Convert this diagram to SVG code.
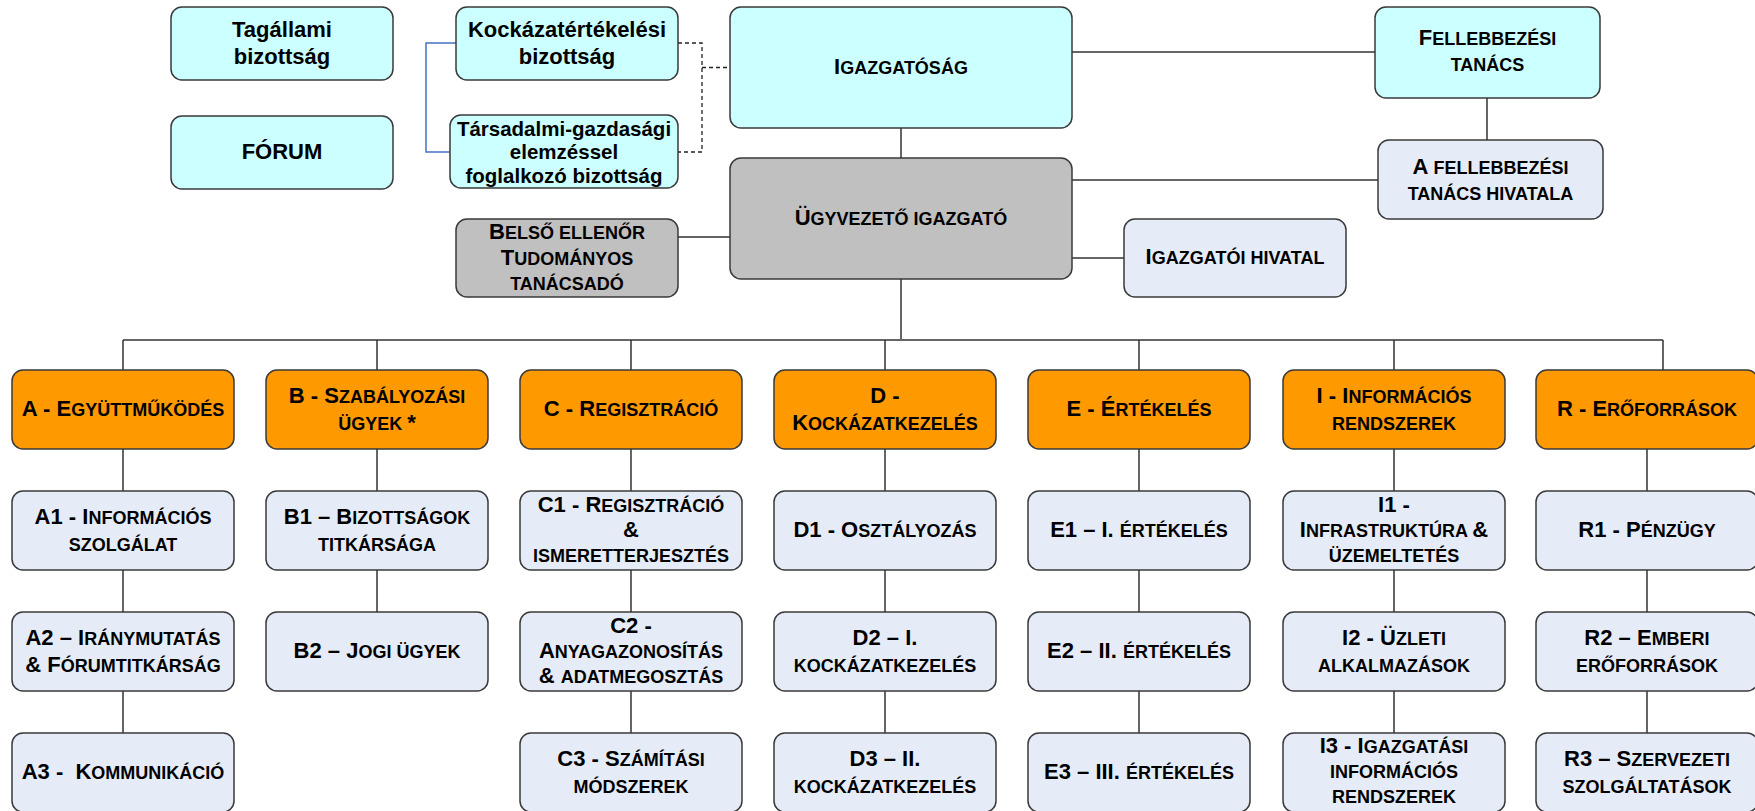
<svg xmlns="http://www.w3.org/2000/svg" width="1755" height="811" viewBox="0 0 1755 811">
<style>
rect{stroke:#3a3a3a;stroke-width:1.5}
.cy{fill:#CCFFFF}.or{fill:#FF9900}.lb{fill:#E6ECF7}.gr{fill:#C0C0C0}
text{font-family:"Liberation Sans",Arial,sans-serif;font-weight:bold;font-size:22px;text-anchor:middle;fill:#000}
.s{font-size:18px}
.m{font-size:20.5px}
.ln{fill:none;stroke:#333;stroke-width:1.5}
.bus{fill:none;stroke:#666;stroke-width:2}
.blue{fill:none;stroke:#4472C4;stroke-width:1.5}
.dash{fill:none;stroke:#222;stroke-width:1.3;stroke-dasharray:4 3}
</style>
<g id="connectors">
<path class="ln" d="M1072 52H1375M1487 98V140M901 128V158M1072 180H1378M1072 258H1124M678 237H730M901 279V340"/>
<path class="bus" d="M123 340H1663"/>
<path class="ln" d="M123 340V370M377 340V370M631 340V370M885 340V370M1139 340V370M1394 340V370M1663 340V370"/>
<path class="ln" d="M123 449V491M123 570V612M123 691V733M377 449V491M377 570V612M631 449V491M631 570V612M631 691V733M885 449V491M885 570V612M885 691V733M1139 449V491M1139 570V612M1139 691V733M1394 449V491M1394 570V612M1394 691V733M1647 449V491M1647 570V612M1647 691V733"/>
<path class="blue" d="M456 43H426V152H450"/>
<path class="dash" d="M678 43H702V152H678M702 67.5H730"/>
</g>
<g id="tagallami"><rect class="cy" x="171" y="7" width="222" height="73" rx="11"/><text x="282" y="36.5">Tagállami</text><text x="282" y="63.5">bizottság</text></g>
<g id="forum"><rect class="cy" x="171" y="116" width="222" height="73" rx="11"/><text x="282" y="158.5">FÓRUM</text></g>
<g id="kockazatertekelesi"><rect class="cy" x="456" y="7" width="222" height="73" rx="11"/><text x="567" y="36.5">Kockázatértékelési</text><text x="567" y="63.5">bizottság</text></g>
<g id="tarsadalmi"><rect class="cy" x="450" y="115" width="228" height="73" rx="11"/><text class="m" x="564" y="135.5">Társadalmi-gazdasági</text><text class="m" x="564" y="159">elemzéssel</text><text class="m" x="564" y="182.5">foglalkozó bizottság</text></g>
<g id="igazgatosag"><rect class="cy" x="730" y="7" width="342" height="121" rx="11"/><text x="901" y="73.5">I<tspan class="s">GAZGATÓSÁG</tspan></text></g>
<g id="fellebbezesi-tanacs"><rect class="cy" x="1375" y="7" width="225" height="91" rx="11"/><text x="1487.5" y="45">F<tspan class="s">ELLEBBEZÉSI</tspan></text><text class="s" x="1487.5" y="71">TANÁCS</text></g>
<g id="fellebbezesi-hivatal"><rect class="lb" x="1378" y="140" width="225" height="79" rx="11"/><text x="1490.5" y="173.5">A <tspan class="s">FELLEBBEZÉSI</tspan></text><text class="s" x="1490.5" y="199.5">TANÁCS HIVATALA</text></g>
<g id="ugyvezeto"><rect class="gr" x="730" y="158" width="342" height="121" rx="11"/><text x="901" y="225">Ü<tspan class="s">GYVEZETŐ IGAZGATÓ</tspan></text></g>
<g id="belso"><rect class="gr" x="456" y="219" width="222" height="78" rx="11"/><text x="567" y="239">B<tspan class="s">ELSŐ ELLENŐR</tspan></text><text x="567" y="264.5">T<tspan class="s">UDOMÁNYOS</tspan></text><text class="s" x="567" y="289.5">TANÁCSADÓ</text></g>
<g id="igazgatoi-hivatal"><rect class="lb" x="1124" y="219" width="222" height="78" rx="11"/><text x="1235" y="264">I<tspan class="s">GAZGATÓI HIVATAL</tspan></text></g>

<g id="A"><rect class="or" x="12" y="370" width="222" height="79" rx="11"/><text x="123" y="415.5">A - E<tspan class="s">GYÜTTMŰKÖDÉS</tspan></text></g>
<g id="B"><rect class="or" x="266" y="370" width="222" height="79" rx="11"/><text x="377" y="402.5">B - S<tspan class="s">ZABÁLYOZÁSI</tspan></text><text x="377" y="429.5"><tspan class="s">ÜGYEK </tspan>*</text></g>
<g id="C"><rect class="or" x="520" y="370" width="222" height="79" rx="11"/><text x="631" y="415.5">C - R<tspan class="s">EGISZTRÁCIÓ</tspan></text></g>
<g id="D"><rect class="or" x="774" y="370" width="222" height="79" rx="11"/><text x="885" y="402.5">D -</text><text x="885" y="429.5">K<tspan class="s">OCKÁZATKEZELÉS</tspan></text></g>
<g id="E"><rect class="or" x="1028" y="370" width="222" height="79" rx="11"/><text x="1139" y="415.5">E - É<tspan class="s">RTÉKELÉS</tspan></text></g>
<g id="I"><rect class="or" x="1283" y="370" width="222" height="79" rx="11"/><text x="1394" y="402.5">I - I<tspan class="s">NFORMÁCIÓS</tspan></text><text class="s" x="1394" y="429.5">RENDSZEREK</text></g>
<g id="R"><rect class="or" x="1536" y="370" width="222" height="79" rx="11"/><text x="1647" y="415.5">R - E<tspan class="s">RŐFORRÁSOK</tspan></text></g>

<g id="A1"><rect class="lb" x="12" y="491" width="222" height="79" rx="11"/><text x="123" y="523.5">A1 - I<tspan class="s">NFORMÁCIÓS</tspan></text><text class="s" x="123" y="550.5">SZOLGÁLAT</text></g>
<g id="A2"><rect class="lb" x="12" y="612" width="222" height="79" rx="11"/><text x="123" y="644.5">A2 – I<tspan class="s">RÁNYMUTATÁS</tspan></text><text x="123" y="671.5">&amp; F<tspan class="s">ÓRUMTITKÁRSÁG</tspan></text></g>
<g id="A3"><rect class="lb" x="12" y="733" width="222" height="79" rx="11"/><text x="123" y="778.5" xml:space="preserve">A3 -  K<tspan class="s">OMMUNIKÁCIÓ</tspan></text></g>

<g id="B1"><rect class="lb" x="266" y="491" width="222" height="79" rx="11"/><text x="377" y="523.5">B1 – B<tspan class="s">IZOTTSÁGOK</tspan></text><text class="s" x="377" y="550.5">TITKÁRSÁGA</text></g>
<g id="B2"><rect class="lb" x="266" y="612" width="222" height="79" rx="11"/><text x="377" y="657.5">B2 – J<tspan class="s">OGI ÜGYEK</tspan></text></g>

<g id="C1"><rect class="lb" x="520" y="491" width="222" height="79" rx="11"/><text x="631" y="511.5">C1 - R<tspan class="s">EGISZTRÁCIÓ</tspan></text><text x="631" y="536.5">&amp;</text><text class="s" x="631" y="561.5">ISMERETTERJESZTÉS</text></g>
<g id="C2"><rect class="lb" x="520" y="612" width="222" height="79" rx="11"/><text x="631" y="632.5">C2 -</text><text x="631" y="657.5">A<tspan class="s">NYAGAZONOSÍTÁS</tspan></text><text x="631" y="682.5">&amp; <tspan class="s">ADATMEGOSZTÁS</tspan></text></g>
<g id="C3"><rect class="lb" x="520" y="733" width="222" height="79" rx="11"/><text x="631" y="765.5">C3 - S<tspan class="s">ZÁMÍTÁSI</tspan></text><text class="s" x="631" y="792.5">MÓDSZEREK</text></g>

<g id="D1"><rect class="lb" x="774" y="491" width="222" height="79" rx="11"/><text x="885" y="536.5">D1 - O<tspan class="s">SZTÁLYOZÁS</tspan></text></g>
<g id="D2"><rect class="lb" x="774" y="612" width="222" height="79" rx="11"/><text x="885" y="644.5">D2 – I.</text><text class="s" x="885" y="671.5">KOCKÁZATKEZELÉS</text></g>
<g id="D3"><rect class="lb" x="774" y="733" width="222" height="79" rx="11"/><text x="885" y="765.5">D3 – II.</text><text class="s" x="885" y="792.5">KOCKÁZATKEZELÉS</text></g>

<g id="E1"><rect class="lb" x="1028" y="491" width="222" height="79" rx="11"/><text x="1139" y="536.5">E1 – I. <tspan class="s">ÉRTÉKELÉS</tspan></text></g>
<g id="E2"><rect class="lb" x="1028" y="612" width="222" height="79" rx="11"/><text x="1139" y="657.5">E2 – II. <tspan class="s">ÉRTÉKELÉS</tspan></text></g>
<g id="E3"><rect class="lb" x="1028" y="733" width="222" height="79" rx="11"/><text x="1139" y="778.5">E3 – III. <tspan class="s">ÉRTÉKELÉS</tspan></text></g>

<g id="I1"><rect class="lb" x="1283" y="491" width="222" height="79" rx="11"/><text x="1394" y="511.5">I1 -</text><text x="1394" y="536.5">I<tspan class="s">NFRASTRUKTÚRA </tspan>&amp;</text><text class="s" x="1394" y="561.5">ÜZEMELTETÉS</text></g>
<g id="I2"><rect class="lb" x="1283" y="612" width="222" height="79" rx="11"/><text x="1394" y="644.5">I2 - Ü<tspan class="s">ZLETI</tspan></text><text class="s" x="1394" y="671.5">ALKALMAZÁSOK</text></g>
<g id="I3"><rect class="lb" x="1283" y="733" width="222" height="79" rx="11"/><text x="1394" y="753">I3 - I<tspan class="s">GAZGATÁSI</tspan></text><text class="s" x="1394" y="778">INFORMÁCIÓS</text><text class="s" x="1394" y="803">RENDSZEREK</text></g>

<g id="R1"><rect class="lb" x="1536" y="491" width="222" height="79" rx="11"/><text x="1647" y="536.5">R1 - P<tspan class="s">ÉNZÜGY</tspan></text></g>
<g id="R2"><rect class="lb" x="1536" y="612" width="222" height="79" rx="11"/><text x="1647" y="644.5">R2 – E<tspan class="s">MBERI</tspan></text><text class="s" x="1647" y="671.5">ERŐFORRÁSOK</text></g>
<g id="R3"><rect class="lb" x="1536" y="733" width="222" height="79" rx="11"/><text x="1647" y="765.5">R3 – S<tspan class="s">ZERVEZETI</tspan></text><text class="s" x="1647" y="792.5">SZOLGÁLTATÁSOK</text></g>
</svg>
